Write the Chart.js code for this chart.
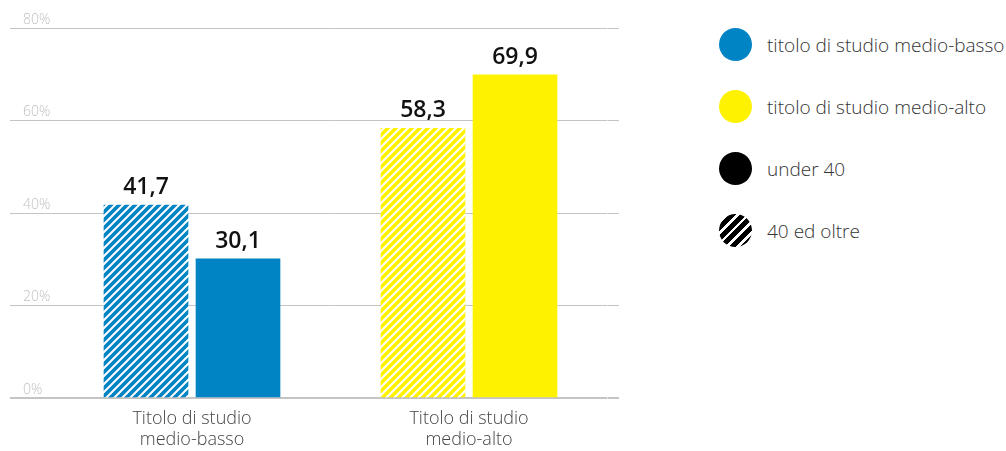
<!DOCTYPE html>
<html>
<head>
<meta charset="utf-8">
<script src="https://cdn.jsdelivr.net/npm/chart.js@4"></script>
<style>
  html, body { margin: 0; padding: 0; background: #fff; }
  body { width: 1006px; height: 451px; position: relative; overflow: hidden; font-family: "Open Sans", sans-serif; }
  #wrap { position: absolute; left: 0; top: 0; width: 630px; height: 451px; }
  #legend { position: absolute; left: 719px; top: 28px; }
  .item { display: flex; align-items: center; height: 33px; margin-bottom: 29px; }
  .dot { width: 33px; height: 33px; border-radius: 50%; margin-right: 15px; flex: none; }
  .item span { font-size: 19px; font-weight: 300; color: #333; white-space: nowrap; }
</style>
</head>
<body>
<div id="wrap"><canvas id="chart"></canvas></div>
<div id="legend"></div>
<script>
const categories = [["Titolo di studio", "medio-basso"], ["Titolo di studio", "medio-alto"]];
const over40 = [41.7, 58.3];
const under40 = [30.1, 69.9];
const yTicks = [0, 20, 40, 60, 80];
const colors = ["#0084c4", "#fff200"];

const legendItems = [
  { text: "titolo di studio medio-basso", bg: colors[0] },
  { text: "titolo di studio medio-alto", bg: colors[1] },
  { text: "under 40", bg: "#000" },
  { text: "40 ed oltre", bg: "repeating-linear-gradient(135deg, #000 0 5px, #fff 5px 7.5px)" },
];

// html legend on the right
const legend = document.getElementById("legend");
legendItems.forEach(it => {
  const row = document.createElement("div");
  row.className = "item";
  row.innerHTML = `<div class="dot" style="background:${it.bg}"></div><span>${it.text}</span>`;
  legend.appendChild(row);
});

// white diagonal stripes over a flat colour
function hatch(color) {
  const s = 8;
  const c = document.createElement("canvas");
  c.width = c.height = s;
  const g = c.getContext("2d");
  g.fillStyle = color;
  g.fillRect(0, 0, s, s);
  g.strokeStyle = "#fff";
  g.lineWidth = 2;
  g.beginPath();
  g.moveTo(0, s); g.lineTo(s, 0);
  g.moveTo(-1, 1); g.lineTo(1, -1);
  g.moveTo(s - 1, s + 1); g.lineTo(s + 1, s - 1);
  g.stroke();
  return g.createPattern(c, "repeat");
}

const valueLabels = {
  id: "valueLabels",
  afterDatasetsDraw(chart) {
    const { ctx } = chart;
    ctx.save();
    ctx.font = "600 23px 'Open Sans', sans-serif";
    ctx.fillStyle = "#111";
    ctx.textAlign = "center";
    ctx.textBaseline = "alphabetic";
    chart.data.datasets.forEach((ds, di) => {
      chart.getDatasetMeta(di).data.forEach((bar, i) => {
        ctx.fillText(ds.data[i].toFixed(1).replace(".", ","), bar.x, bar.y - 11);
      });
    });
    ctx.restore();
  }
};

const gridColor = "#c4c4c4";
const gridWidth = c => (c.tick && c.tick.value === 0 ? 2 : 1);
const setTicks = s => { s.ticks = yTicks.map(v => ({ value: v })); };

new Chart(document.getElementById("chart"), {
  type: "bar",
  data: {
    labels: categories,
    datasets: [
      { label: "40 ed oltre", data: over40, backgroundColor: colors.map(hatch) },
      { label: "under 40", data: under40, backgroundColor: colors },
    ],
  },
  options: {
    responsive: true,
    maintainAspectRatio: false,
    animation: false,
    layout: { padding: { left: 10, right: 11, top: 28, bottom: 0 } },
    barThickness: 92,
    maxBarThickness: 84,
    plugins: { legend: { display: false }, tooltip: { enabled: false } },
    scales: {
      x: {
        grid: { display: false, drawTicks: false },
        border: { display: false },
        afterFit(s) { s.height = 53; },
        ticks: {
          padding: 10,
          color: "#444",
          font: { family: "Open Sans", size: 18, weight: 300, lineHeight: 1.18 },
        },
      },
      y: {
        min: 0,
        max: 80,
        afterBuildTicks: setTicks,
        afterFit(s) { s.width = 43.5; },
        grid: { color: gridColor, lineWidth: gridWidth, tickLength: 43.5 },
        border: { display: false },
        ticks: {
          mirror: true,
          padding: -30.5,
          labelOffset: -8,
          color: "#c0c0c0",
          font: { family: "Open Sans", size: 14, weight: 300 },
          callback: v => v + "%",
        },
      },
      // only carries the short grid stubs past the right edge
      y2: {
        position: "right",
        min: 0,
        max: 80,
        afterBuildTicks: setTicks,
        afterFit(s) { s.width = 11.5; },
        grid: { color: gridColor, lineWidth: gridWidth, tickLength: 11.5, drawOnChartArea: false },
        border: { display: false },
        ticks: { display: false },
      },
    },
  },
  plugins: [valueLabels],
});
</script>
</body>
</html>
